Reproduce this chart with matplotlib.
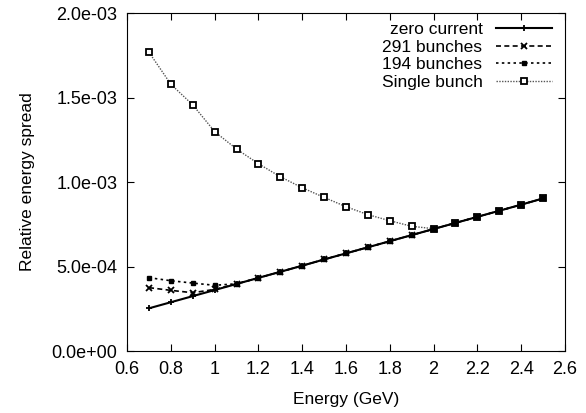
import numpy as np
import matplotlib
matplotlib.use("Agg")
import matplotlib.pyplot as plt
from matplotlib.ticker import FuncFormatter

plt.rcParams['font.family'] = ['Liberation Sans', 'DejaVu Sans']

# energy points (GeV)
energy = [0.7, 0.8, 0.9, 1.0, 1.1, 1.2, 1.3, 1.4, 1.5, 1.6,
          1.7, 1.8, 1.9, 2.0, 2.1, 2.2, 2.3, 2.4, 2.5]

# relative energy spread
zero_current = [2.53e-4, 2.89e-4, 3.25e-4, 3.61e-4, 3.97e-4, 4.33e-4, 4.69e-4,
                5.05e-4, 5.42e-4, 5.78e-4, 6.14e-4, 6.50e-4, 6.86e-4, 7.22e-4,
                7.58e-4, 7.94e-4, 8.30e-4, 8.66e-4, 9.03e-4]
bunches_291 = [3.75e-4, 3.59e-4, 3.45e-4, 3.65e-4, 3.97e-4, 4.33e-4, 4.69e-4,
               5.05e-4, 5.42e-4, 5.78e-4, 6.14e-4, 6.50e-4, 6.86e-4, 7.22e-4,
               7.58e-4, 7.94e-4, 8.30e-4, 8.66e-4, 9.03e-4]
bunches_194 = [4.34e-4, 4.16e-4, 4.02e-4, 3.89e-4, 3.98e-4, 4.33e-4, 4.69e-4,
               5.05e-4, 5.42e-4, 5.78e-4, 6.14e-4, 6.50e-4, 6.86e-4, 7.22e-4,
               7.58e-4, 7.94e-4, 8.30e-4, 8.66e-4, 9.03e-4]
single_bunch = [1.767e-3, 1.578e-3, 1.456e-3, 1.298e-3, 1.195e-3, 1.108e-3,
                1.031e-3, 0.966e-3, 0.909e-3, 0.854e-3, 0.807e-3, 0.771e-3,
                0.738e-3, 0.724e-3, 7.58e-4, 7.94e-4, 8.30e-4, 8.66e-4, 9.03e-4]

fig = plt.figure(figsize=(5.86, 4.13), dpi=100)
ax = fig.add_axes([0.217, 0.150, 0.747, 0.8185])

ax.plot(energy, single_bunch, color='#555555', linestyle=(0, (1, 1)), linewidth=1.0,
        marker='s', markersize=4, markerfacecolor='white', markeredgecolor='black',
        markeredgewidth=1.3, label='Single bunch')
ax.plot(energy, bunches_194, color='black', linestyle=(0, (1.5, 2)), linewidth=1.2,
        marker='s', markersize=3.5, markerfacecolor='black', label='194 bunches')
ax.plot(energy, bunches_291, color='black', linestyle=(0, (3, 2)), linewidth=1.2,
        marker='x', markersize=4, markeredgewidth=1.3, label='291 bunches')
ax.plot(energy, zero_current, color='black', linestyle='-', linewidth=1.5,
        marker='+', markersize=4.5, markeredgewidth=1.3, label='zero current')

ax.set_xlim(0.6, 2.6)
ax.set_ylim(0, 2.0e-3)
ax.set_xticks(np.arange(0.6, 2.61, 0.2))
ax.xaxis.set_major_formatter(FuncFormatter(lambda v, p: ('%g' % round(v, 1))))
ax.set_yticks([0, 0.5e-3, 1.0e-3, 1.5e-3, 2.0e-3])
ax.yaxis.set_major_formatter(FuncFormatter(lambda v, p: '%.1e' % v))
ax.tick_params(direction='in', top=True, right=True, length=5, labelsize=13, pad=7)
ax.set_xlabel('Energy (GeV)', fontsize=12.5, labelpad=10)
ax.set_ylabel('Relative energy spread', fontsize=12.5, labelpad=12)

h, l = ax.get_legend_handles_labels()
ax.legend(h[::-1], l[::-1], loc='upper right', frameon=False, markerfirst=False,
          fontsize=12.5, handlelength=3.2, labelspacing=0.15,
          borderaxespad=0.1, bbox_to_anchor=(0.99, 1.0))

fig.savefig('out.png', dpi=100)
